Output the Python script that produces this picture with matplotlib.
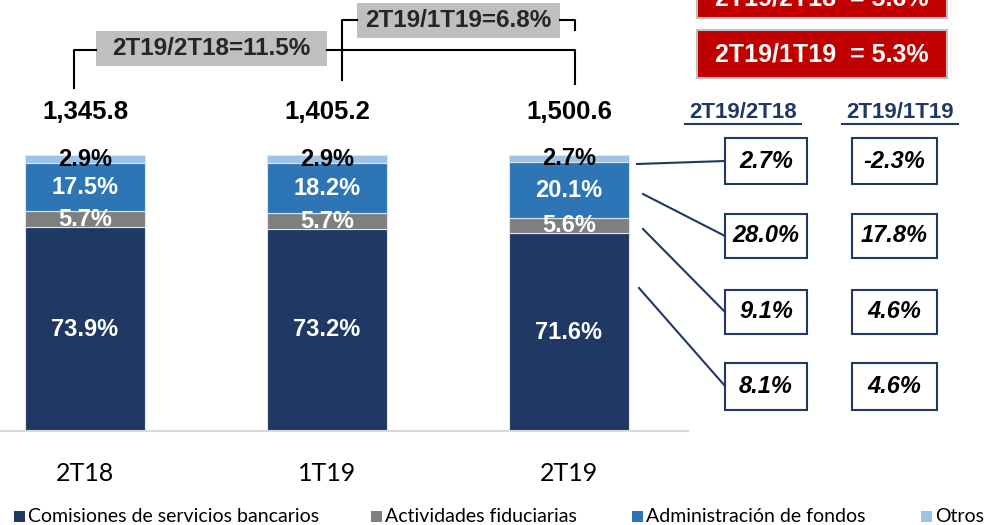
import matplotlib
matplotlib.use("Agg")
import matplotlib.pyplot as plt
from matplotlib.patches import Rectangle
import numpy as np

plt.rcParams["font.family"] = ["Lato", "DejaVu Sans"]
BOLD = ["Liberation Sans", "DejaVu Sans"]

# ── data ─────────────────────────────────────────────────────────────
periods = ["2T18", "1T19", "2T19"]
totals = [1345.8, 1405.2, 1500.6]
series_names = ["Comisiones de servicios bancarios", "Actividades fiduciarias",
                "Administración de fondos", "Otros"]
comisiones = [73.9, 73.2, 71.6]
fiduciarias = [5.7, 5.7, 5.6]
fondos = [17.5, 18.2, 20.1]
otros = [2.9, 2.9, 2.7]

var_anual = ["8.1%", "9.1%", "28.0%", "2.7%"]      # 2T19/2T18 by segment
var_trim = ["4.6%", "4.6%", "17.8%", "-2.3%"]      # 2T19/1T19 by segment
total_anual = "2T19/2T18=11.5%"
total_trim = "2T19/1T19=6.8%"
red_labels = ["2T19/2T18  = 5.6%", "2T19/1T19  = 5.3%"]

colors = ["#1F3864", "#7F7F7F", "#2E75B6", "#9DC3E6"]
label_colors = ["white", "white", "white", "black"]
navy = "#1F3864"

W, H = 987, 525
fig = plt.figure(figsize=(W / 100, H / 100), dpi=100)

# ── stacked 100% bars ────────────────────────────────────────────────
ax = fig.add_axes([0, (H - 431) / H, 688 / W, 276 / H])
x = np.arange(len(periods))
stack = [comisiones, fiduciarias, fondos, otros]
bottom = np.zeros(len(periods))
for vals, col, lc in zip(stack, colors, label_colors):
    vals = np.array(vals)
    ax.bar(x, vals, 0.496, bottom=bottom, color=col, edgecolor="#DCE6F2",
           linewidth=0.8, zorder=2)
    for xi, b, v in zip(x, bottom, vals):
        ax.text(xi, b + v / 2, f"{v:.1f}%", ha="center", va="center",
                color=lc, fontsize=17, fontweight="bold", family=BOLD, zorder=3)
    bottom += vals

for xi, t in zip(x, totals):
    ax.text(xi, 100 + 15.5, f"{t:,.1f}", ha="center", va="center",
            fontsize=18.5, fontweight="bold", family=BOLD, color="black",
            clip_on=False)

ax.set_xlim(-85 / 242, (688 - 85) / 242)
ax.set_ylim(0, 100)
ax.set_xticks(x)
ax.set_xticklabels(periods, fontsize=18)
ax.tick_params(axis="x", length=0, pad=22)
ax.set_yticks([])
for s in ["top", "right", "left"]:
    ax.spines[s].set_visible(False)
ax.spines["bottom"].set_color("#D9D9D9")
ax.spines["bottom"].set_linewidth(1.5)

# ── annotations in pixel space ───────────────────────────────────────
ov = fig.add_axes([0, 0, 1, 1], zorder=5)
ov.set_xlim(0, W)
ov.set_ylim(H, 0)
ov.axis("off")

# growth brackets
ov.plot([74, 74, 96], [88, 50, 50], color="black", lw=1.5)
ov.plot([327, 575, 575], [50, 50, 84], color="black", lw=1.5)
ov.plot([342, 342, 357], [80, 20, 20], color="black", lw=1.5)
ov.plot([560, 575, 575], [20, 20, 30], color="black", lw=1.5)
ov.add_patch(Rectangle((96, 31), 231, 35, facecolor="#BFBFBF", edgecolor="none"))
ov.text(211, 48.5, total_anual, ha="center", va="center", fontsize=17.5,
        fontweight="bold", family=BOLD, color="#262626")
ov.add_patch(Rectangle((357, 3), 203, 35, facecolor="#BFBFBF", edgecolor="none"))
ov.text(458, 20.5, total_trim, ha="center", va="center", fontsize=17.5,
        fontweight="bold", family=BOLD, color="#262626")

# red summary boxes
for i, lab in enumerate(red_labels):
    y0 = -30 + i * 60
    ov.add_patch(Rectangle((697, y0), 250, 48, facecolor="#C00000",
                           edgecolor="#BFBFBF", lw=1.5))
    ov.text(822, y0 + 25 + (4 if i == 0 else 0), lab, ha="center", va="center",
            fontsize=18, fontweight="bold", family=BOLD, color="white")

# column headers
for cx, lab in zip([743, 900], ["2T19/2T18", "2T19/1T19"]):
    ov.text(cx, 113, lab, ha="center", va="center", fontsize=16,
            fontweight="bold", family=BOLD, color=navy)
    ov.plot([cx - 58, cx + 58], [124, 124], color=navy, lw=1.5)

# variation boxes, bottom segment first
row_tops = [363, 290, 214, 138]
row_h = [47, 44, 44, 46]
starts = [(639, 288), (643, 229), (643, 194), (637, 164)]
ends = [386, 312, 236, 161]
for yt, h, st, ye, a, t in zip(row_tops, row_h, starts, ends, var_anual, var_trim):
    ov.add_patch(Rectangle((725, yt), 82, h, facecolor="white",
                           edgecolor=navy, lw=1.5))
    ov.add_patch(Rectangle((852, yt), 85, h, facecolor="white",
                           edgecolor=navy, lw=1.5))
    ov.text(766, yt + h / 2, a, ha="center", va="center", fontsize=17,
            fontweight="bold", style="italic", family=BOLD, color="black")
    ov.text(894.5, yt + h / 2, t, ha="center", va="center", fontsize=17,
            fontweight="bold", style="italic", family=BOLD, color="black")
    ov.plot([st[0], 725], [st[1], ye], color=navy, lw=1.5)

# legend row
leg_x = [14, 371, 632, 921]
for lx, name, col in zip(leg_x, series_names, colors):
    ov.add_patch(Rectangle((lx, 511), 11, 11, facecolor=col, edgecolor="none"))
    ov.text(lx + 14, 516, name, ha="left", va="center", fontsize=14,
            color="black")

fig.savefig("out.png", dpi=100)
